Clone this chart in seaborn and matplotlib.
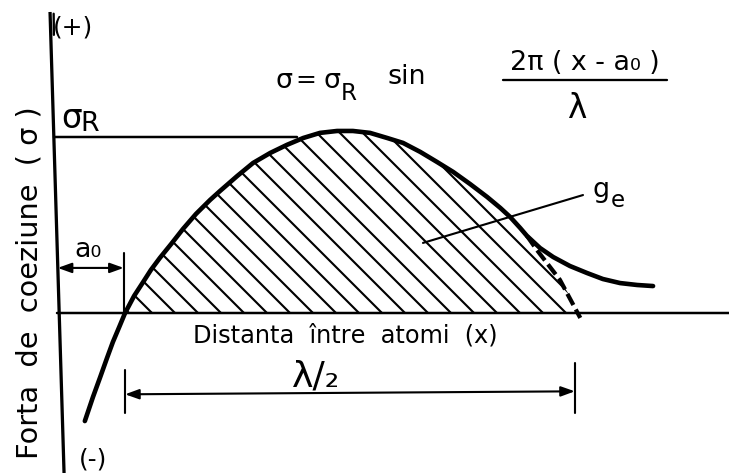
import numpy as np
import matplotlib
matplotlib.use("Agg")
import matplotlib.pyplot as plt
import seaborn as sns

# Cohesive force vs. interatomic distance (sigma in units of sigma_R)
x_curve = [0.66, 0.84, 1.00, 1.15, 1.28, 1.42, 1.55, 1.75, 1.95, 2.12, 2.32,
           2.57, 2.83, 3.12, 3.43, 3.65, 4.03, 4.38, 4.76, 5.13, 5.49, 5.86,
           6.24, 6.59, 6.97, 7.35, 7.70, 8.08, 8.45, 8.81, 9.18, 9.56, 9.85,
           10.07, 10.29, 10.44, 10.73, 11.02, 11.39, 11.77, 12.12, 12.50,
           12.88, 13.23]
sigma_curve = [-0.614, -0.477, -0.364, -0.256, -0.165, -0.080, 0.0, 0.097,
               0.176, 0.244, 0.313, 0.392, 0.477, 0.563, 0.642, 0.693, 0.778,
               0.852, 0.909, 0.955, 0.994, 1.023, 1.034, 1.034, 1.023, 0.994,
               0.966, 0.915, 0.858, 0.801, 0.733, 0.659, 0.597, 0.545, 0.483,
               0.438, 0.369, 0.318, 0.267, 0.227, 0.193, 0.170, 0.159, 0.153]
# sine approximation past the branching point (dashed)
x_sine_tail = [10.44, 10.66, 11.17, 11.62]
sigma_sine_tail = [0.438, 0.358, 0.188, -0.028]

sigma_R = 1.0
a0 = 1.52
half_lambda = 9.98
x_branch = 10.44

DPI = 138
sns.set_style("white")
plt.rcParams["font.family"] = ["DejaVu Sans"]
plt.rcParams["hatch.linewidth"] = 1.1

fig = plt.figure(figsize=(729 / DPI, 473 / DPI), dpi=DPI)
ax = fig.add_axes([0, 0, 1, 1])
ax.set_xlim(-1.217, 14.91)
ax.set_ylim(-0.909, 1.778)
ax.axis("off")

# axes of the diagram
ax.plot([-0.11, 0.20], [1.71, -0.909], color="black", lw=1.7, solid_capstyle="butt")
ax.plot([-0.03, -0.025], [1.70, 1.58], color="black", lw=1.2)
ax.plot([0.04, 14.91], [0.0, 0.0], color="black", lw=1.3)
ax.plot([-0.02, 5.35], [sigma_R, sigma_R], color="black", lw=1.3)

# hatched area under the sine part (energy g_e)
xs = np.array([v for v in x_curve if a0 <= v <= x_branch] + x_sine_tail[1:])
ys = np.array([s for v, s in zip(x_curve, sigma_curve) if a0 <= v <= x_branch]
              + sigma_sine_tail[1:])
ys = np.clip(ys, 0, None)
ax.fill_between(xs, 0, ys, facecolor="none", edgecolor="black", hatch="\\\\",
                linewidth=0)

# curves
sns.lineplot(x=x_curve, y=sigma_curve, ax=ax, color="black", lw=2.4,
             sort=False, estimator=None)
ax.lines[-1].set_solid_joinstyle("round")
ax.lines[-1].set_solid_capstyle("round")
sns.lineplot(x=x_sine_tail, y=sigma_sine_tail, ax=ax, color="black", lw=2.2,
             sort=False, estimator=None, linestyle=(0, (3, 1.2)))

# leader line to g_e
ax.plot([8.14, 11.68], [0.398, 0.670], color="black", lw=1.1)

# dimension a0
ax.plot([a0, a0], [0.0, 0.34], color="black", lw=1.1)
ax.annotate("", xy=(0.06, 0.256), xytext=(a0, 0.256),
            arrowprops=dict(arrowstyle="<|-|>,head_length=0.5,head_width=0.18",
                            mutation_scale=12, color="black", lw=1.1,
                            shrinkA=0, shrinkB=0))

# dimension lambda/2
ax.plot([a0 + 0.03, a0 + 0.03], [-0.324, -0.568], color="black", lw=1.1)
ax.plot([a0 + half_lambda, a0 + half_lambda], [-0.284, -0.568], color="black", lw=1.1)
ax.annotate("", xy=(a0 + 0.03, -0.462), xytext=(a0 + half_lambda, -0.445),
            arrowprops=dict(arrowstyle="<|-|>,head_length=0.5,head_width=0.18",
                            mutation_scale=12, color="black", lw=1.1,
                            shrinkA=0, shrinkB=0))


def fx(px):
    return px / 729


def fy(py):
    return 1 - py / 473


t = dict(transform=fig.transFigure, color="black")

fig.text(fx(30), fy(283), "Forta  de  coeziune  ( σ )", rotation=90,
         ha="center", va="center", fontsize=15, **t)
fig.text(fx(73), fy(27), "(+)", ha="center", va="center", fontsize=13, **t)
fig.text(fx(93), fy(459), "(-)", ha="center", va="center", fontsize=13, **t)
fig.text(fx(72), fy(119), "σ", ha="center", va="center", fontsize=17, **t)
fig.text(fx(90), fy(124), "R", ha="center", va="center", fontsize=14, **t)
fig.text(fx(88), fy(250), "a₀", ha="center", va="center", fontsize=14, **t)

fig.text(fx(345), fy(336), "Distanta  întrе  atomi  (x)", ha="center",
         va="center", fontsize=12.5, **t)
fig.text(fx(316), fy(376), "λ/₂", ha="center", va="center", fontsize=19, **t)

# formula
fig.text(fx(284), fy(81), "σ", ha="center", va="center", fontsize=14, **t)
fig.text(fx(306), fy(80), "=", ha="center", va="center", fontsize=13, **t)
fig.text(fx(332), fy(81), "σ", ha="center", va="center", fontsize=14, **t)
fig.text(fx(349), fy(94), "R", ha="center", va="center", fontsize=12, **t)
fig.text(fx(407), fy(77), "sin", ha="center", va="center", fontsize=14, **t)
fig.text(fx(585), fy(63), "2π ( x - a₀ )", ha="center", va="center",
         fontsize=14, **t)
fig.add_artist(plt.Line2D([fx(503), fx(667)], [fy(80), fy(80)],
                          transform=fig.transFigure, color="black", lw=1.2))
fig.text(fx(577), fy(109), "λ", ha="center", va="center", fontsize=17, **t)

fig.text(fx(601), fy(190), "g", ha="center", va="center", fontsize=14, **t)
fig.text(fx(618), fy(201), "e", ha="center", va="center", fontsize=12, **t)

fig.savefig("out.png", dpi=DPI, facecolor="white")
